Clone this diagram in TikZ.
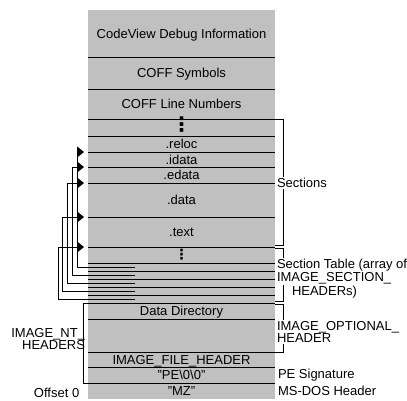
\documentclass[tikz,border=0pt]{standalone}
\usepackage{fontspec}
\setmainfont{Liberation Sans}
\newfontfamily\symfont{DejaVu Sans}
\usetikzlibrary{positioning,arrows.meta}
\definecolor{boxgray}{RGB}{192,192,192}

\begin{document}
\begin{tikzpicture}[x=1pt, y=-1pt, line width=0.9pt,
    every node/.style={font=\fontsize{13}{11.5}\selectfont, inner sep=0pt, outer sep=0pt},
    row/.style={fill=boxgray, minimum width=187pt, text height=9.3pt, text depth=0pt},
    lbl/.style={align=left},
    ptr/.style={-{Triangle[length=7pt, width=11pt]}}]
  \useasboundingbox (0,0) rectangle (407,400);
  \node[row, anchor=north, minimum height=47pt] (cv) at (181.5,10) {CodeView Debug Information};
  \node[row, minimum height=32pt, below=0pt of cv] (sym) {COFF Symbols};
  \node[row, minimum height=30pt, below=0pt of sym] (lin) {COFF Line Numbers};
  \node[row, minimum height=17pt, below=0pt of lin] (dots) {\symfont\bfseries\fontsize{20}{20}\selectfont\raisebox{1pt}{⋮}};
  \node[row, minimum height=16pt, below=0pt of dots] (sreloc) {.reloc};
  \node[row, minimum height=15pt, below=0pt of sreloc] (sidata) {.idata};
  \node[row, minimum height=16pt, below=0pt of sidata] (sedata) {.edata};
  \node[row, minimum height=34pt, below=0pt of sedata] (sdata) {.data};
  \node[row, minimum height=30pt, below=0pt of sdata] (stext) {.text};
  \node[row, minimum height=16pt, below=0pt of stext] (dots2) {\symfont\bfseries\fontsize{14}{14}\selectfont ⋮};
  \node[row, minimum height=40pt, below=0pt of dots2] (sectab) {};
  \node[row, minimum height=16pt, below=0pt of sectab] (datadir) {Data Directory};
  \node[row, minimum height=33pt, below=0pt of datadir] (opt) {};
  \node[row, minimum height=15pt, below=0pt of opt] (filehdr) {IMAGE\_FILE\_HEADER};
  \node[row, minimum height=16pt, below=0pt of filehdr] (pesig) {"PE\textbackslash 0\textbackslash 0"};
  \node[row, minimum height=16pt, below=0pt of pesig] (mz) {"MZ"};

  \foreach \r in {sym,lin,dots,sreloc,sidata,sedata,sdata,stext,dots2,sectab,datadir,opt,filehdr,pesig,mz}
    \draw (\r.north west) -- (\r.north east);
  \foreach \k in {1,...,4}
    \draw ([yshift={-8pt*\k}]sectab.north west) -- ([yshift={-8pt*\k}]sectab.north east);
  \foreach \k in {0,...,4}
    \coordinate (e\k) at ([xshift=47pt, yshift={-4pt-8pt*\k}]sectab.north west);

  \foreach \s [count=\k from 0] in {sreloc,sidata,sedata,sdata,stext}
    \draw[ptr] (e\k) -| ([xshift={-11pt-4.75pt*\k}]\s.south west) -- ([xshift=-4pt]\s.south west);

  \draw (dots.north east) -- ++(8,0) |- ([yshift=1.5pt]stext.south east);
  \draw ([yshift=-1.5pt]stext.south east) -- ++(8,0) |- ([yshift=1.5pt]sectab.south east);
  \draw ([yshift=-1.5pt]sectab.south east) -- ++(8,0) |- (opt.south east);
  \draw (datadir.north west) -- ++(-5,0) |- (pesig.south west);

  \node[lbl, fill=white, anchor=west, inner sep=1pt] (seclbl) at (276,183) {Sections};
  \node[lbl, fill=white, anchor=north west, inner sep=1pt] (stlbl) at (276,258) {Section Table (array of\\IMAGE\_SECTION\_};
  \node[lbl, anchor=west] (stlbl2) at (292,292) {HEADERs)};
  \node[lbl, fill=white, anchor=west, inner sep=1pt] (optlbl) at (276,332) {IMAGE\_OPTIONAL\_\\HEADER};
  \node[lbl, anchor=west] (pelbl) at (278,375) {PE Signature};
  \node[lbl, anchor=west] (doslbl) at (278,391) {MS-DOS Header};
  \node[lbl, anchor=east, align=right] (ntlbl) at (85,339) {IMAGE\_NT\_\\HEADERS};
  \node[lbl, anchor=base west] (offlbl) at (34,397) {Offset 0};
\end{tikzpicture}
\end{document}
